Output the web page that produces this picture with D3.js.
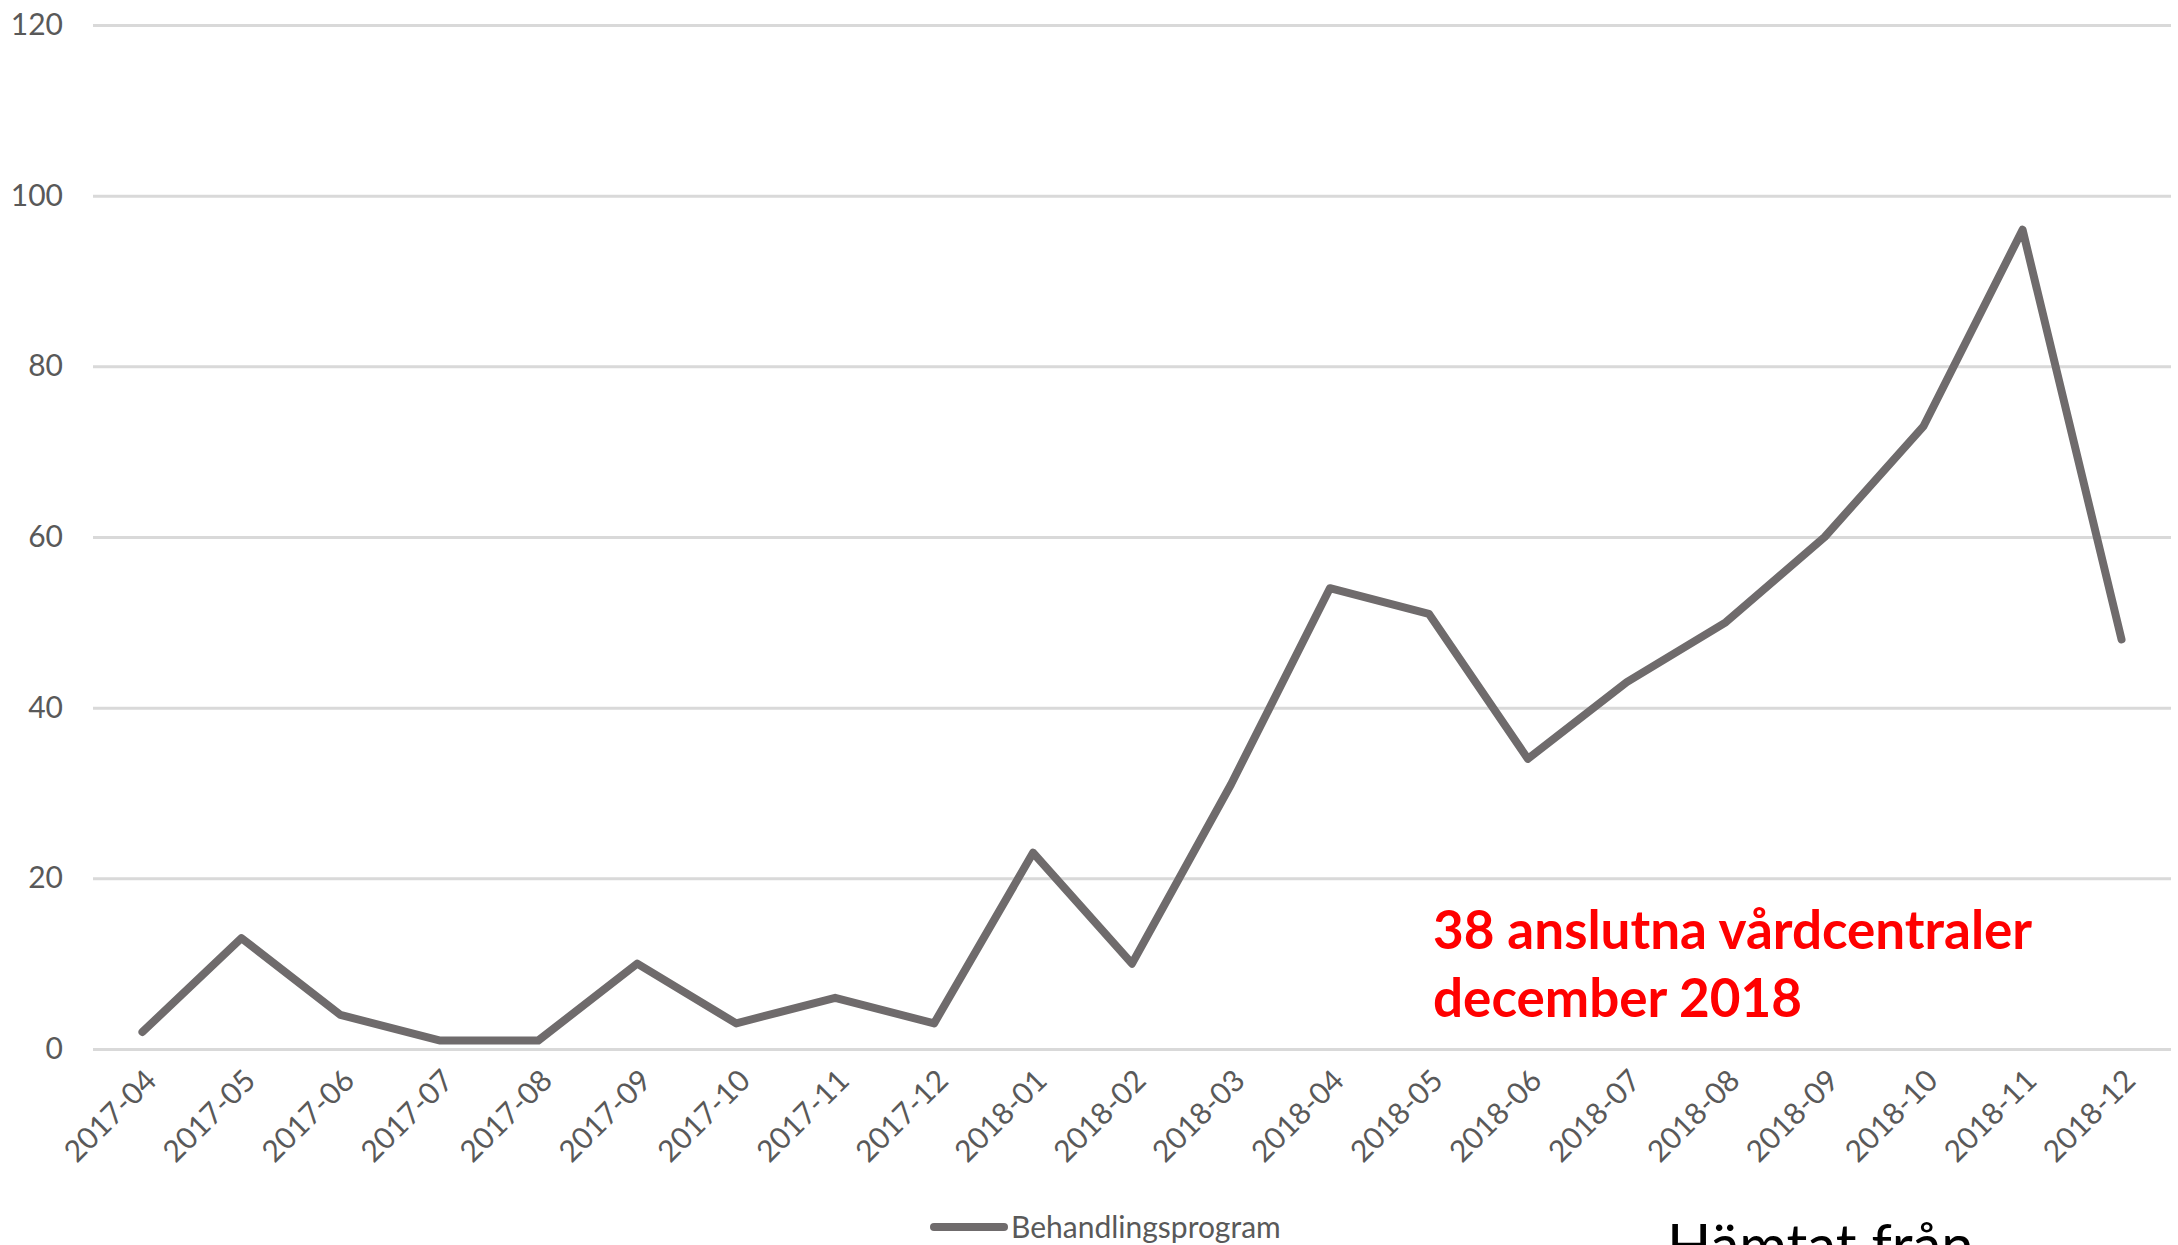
<!DOCTYPE html>
<html>
<head>
<meta charset="utf-8">
<script src="https://cdn.jsdelivr.net/npm/d3@7"></script>
<style>
  body { margin: 0; background: #fff; }
  text { font-family: Lato, "Open Sans", sans-serif; }
</style>
</head>
<body>
<div class="line-chart-container"></div>
<script>
// data
const months = ['2017-04','2017-05','2017-06','2017-07','2017-08','2017-09','2017-10','2017-11','2017-12',
                '2018-01','2018-02','2018-03','2018-04','2018-05','2018-06','2018-07','2018-08','2018-09',
                '2018-10','2018-11','2018-12'];
const behandlingsprogram = [2, 13, 4, 1, 1, 10, 3, 6, 3, 23, 10, 31, 54, 51, 34, 43, 50, 60, 73, 96, 48];
const yTicks = [0, 20, 40, 60, 80, 100, 120];
const seriesName = 'Behandlingsprogram';
const noteLines = ['38 anslutna vårdcentraler', 'december 2018'];
const sourceText = 'Hämtat från';

function setupCanvas()
{
    const svg_width = 2178;
    const svg_height = 1245;
    const chart_margin = {top:25, right:7, bottom:196, left:93};

    const svg = d3.select('.line-chart-container').append('svg')
        .attr('width', svg_width).attr('height', svg_height);

    const xScale = d3.scalePoint().domain(months)
        .range([chart_margin.left, svg_width - chart_margin.right])
        .padding(0.5);
    const yScale = d3.scaleLinear().domain([0, 120])
        .range([svg_height - chart_margin.bottom, chart_margin.top]);

    // y axis + gridlines
    const yAxis = d3.axisLeft(yScale).tickValues(yTicks)
        .tickSizeInner(-(svg_width - chart_margin.left - chart_margin.right))
        .tickSizeOuter(0).tickPadding(30);
    const yAxisDraw = svg.append('g').attr('class','y axis')
        .attr('transform', `translate(${chart_margin.left},0)`)
        .call(yAxis);
    yAxisDraw.select('.domain').remove();
    yAxisDraw.selectAll('line').attr('stroke','#d9d9d9').attr('stroke-width',3);
    yAxisDraw.selectAll('text').attr('fill','#595959').style('font-size','30px');

    // x axis labels, rotated
    const xAxis = d3.axisBottom(xScale).tickSize(0).tickPadding(0);
    const xAxisDraw = svg.append('g').attr('class','x axis')
        .attr('transform', `translate(0,${yScale(0)})`)
        .call(xAxis);
    xAxisDraw.select('.domain').remove();
    xAxisDraw.selectAll('text')
        .attr('fill','#595959').style('font-size','30px')
        .attr('text-anchor','end')
        .attr('dy', null).attr('y', null)
        .attr('transform','translate(10,28) rotate(-45)')
        .attr('dominant-baseline','middle');

    // line
    const line = d3.line()
        .x((d,i) => xScale(months[i]))
        .y(d => yScale(d));
    svg.append('path').datum(behandlingsprogram)
        .attr('fill','none')
        .attr('stroke','#6f6b6c')
        .attr('stroke-width',8)
        .attr('stroke-linejoin','round')
        .attr('stroke-linecap','round')
        .attr('d', line);

    // legend
    const legend = svg.append('g').attr('class','legend')
        .attr('transform','translate(934,1227)');
    legend.append('line').attr('x1',0).attr('x2',70).attr('y1',0).attr('y2',0)
        .attr('stroke','#6f6b6c').attr('stroke-width',8).attr('stroke-linecap','round');
    legend.append('text').attr('x',77).attr('y',0).attr('dy','0.35em')
        .attr('fill','#595959').style('font-size','30px').text(seriesName);

    // red note
    const note = svg.append('text').attr('fill','#ff0000')
        .style('font-size','53px').style('font-weight','bold');
    note.selectAll('tspan').data(noteLines).enter().append('tspan')
        .attr('x',1433).attr('y',(d,i) => 949 + i*68).text(d => d);

    // source text, cut at the bottom like in the original
    svg.append('text').attr('x',1667).attr('y',1266)
        .attr('fill','#000').style('font-size','58px').text(sourceText);
}

setupCanvas();
</script>
</body>
</html>
